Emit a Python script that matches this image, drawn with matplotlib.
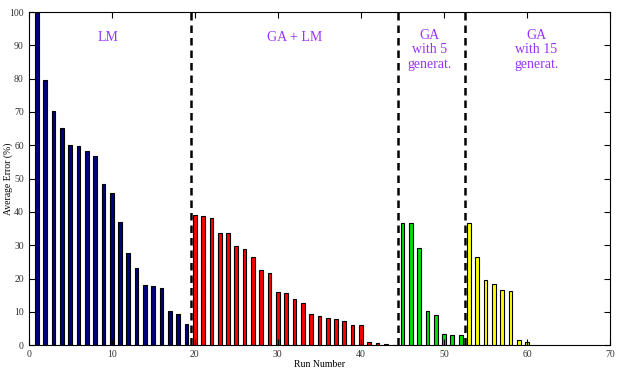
import matplotlib
matplotlib.use("Agg")
import matplotlib.pyplot as plt

plt.rcParams['font.family'] = ['Liberation Serif', 'DejaVu Serif']

# run numbers and average error per method
lm_runs = list(range(1, 20))
lm_err = [100, 79.5, 70.4, 65.2, 60.1, 59.8, 58.3, 56.8, 48.4, 45.8,
          37.1, 27.7, 23.1, 18.2, 17.7, 17.3, 10.4, 9.5, 6.3]

galm_runs = list(range(20, 45))
galm_err = [39.2, 38.8, 38.2, 33.7, 33.7, 29.8, 28.9, 26.5, 22.7, 21.8,
            16.1, 15.8, 14.0, 12.8, 9.5, 8.9, 8.3, 8.0, 7.4, 6.2,
            6.2, 1.1, 0.8, 0.5, 0.2]

ga5_runs = list(range(45, 53))
ga5_err = [36.7, 36.7, 29.2, 10.4, 9.2, 3.5, 3.2, 3.2]

ga15_runs = list(range(53, 61))
ga15_err = [36.7, 26.5, 19.5, 18.5, 16.7, 16.4, 1.6, 1.1]

separators = [19.5, 44.5, 52.5]

fig = plt.figure(figsize=(6.22, 3.76), dpi=100)
ax = fig.add_axes([0.046, 0.082, 0.935, 0.886])

w = 0.45
ax.bar(lm_runs, lm_err, width=w, color='#000080', edgecolor='black', linewidth=0.8)
ax.bar(galm_runs, galm_err, width=w, color='#ff0000', edgecolor='black', linewidth=0.8)
ax.bar(ga5_runs, ga5_err, width=w, color='#00e000', edgecolor='black', linewidth=0.8)
ax.bar(ga15_runs, ga15_err, width=w, color='#ffff00', edgecolor='black', linewidth=0.8)

for s in separators:
    ax.axvline(s, color='black', linestyle=(0, (3, 2)), linewidth=1.8)

purple = '#9933ff'
ax.text(9.5, 92.5, 'LM', color=purple, fontsize=10, ha='center', va='center')
ax.text(32, 92.5, 'GA + LM', color=purple, fontsize=10, ha='center', va='center')
ax.text(48.2, 88.7, 'GA\nwith 5\ngenerat.', color=purple, fontsize=10,
        ha='center', va='center', linespacing=1.15)
ax.text(61.1, 88.7, 'GA\nwith 15\ngenerat.', color=purple, fontsize=10,
        ha='center', va='center', linespacing=1.15)

ax.set_xlim(0, 70)
ax.set_ylim(0, 100)
ax.set_xticks(range(0, 71, 10))
ax.set_yticks(range(0, 101, 10))
ax.tick_params(direction='in', top=True, right=True, labelsize=7, length=4,
               labelcolor='#333333')
ax.set_xlabel('Run Number', fontsize=7, labelpad=1)
ax.set_ylabel('Average Error (%)', fontsize=7, va='center')
ax.yaxis.set_label_coords(-0.035, 0.5)

fig.savefig('out.png', dpi=100)
